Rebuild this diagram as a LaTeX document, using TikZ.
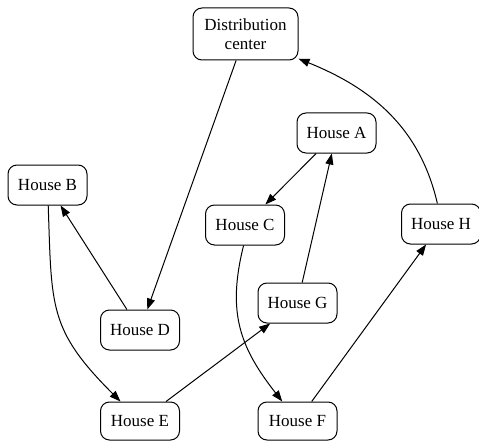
\documentclass[tikz,border=0pt]{standalone}
\usepackage{fontspec}
\setmainfont{Liberation Serif}
\usetikzlibrary{arrows.meta}
\begin{document}
\begin{tikzpicture}[x=1pt,y=1pt,
  house/.style={draw, rounded corners=9pt, line width=1pt, minimum width=79pt, minimum height=40pt, inner sep=2pt, font=\fontsize{17}{19}\selectfont, align=center},
  edge/.style={line width=1pt, -{Triangle[length=11pt,width=8pt]}}]
\useasboundingbox (0,0) rectangle (479,-441);
\node[house, minimum width=105pt, minimum height=52pt] (DC) at (245.5,-34) {Distribution\\center};
\node[house] (A) at (336.5,-133) {House A};
\node[house] (B) at (47.5,-185) {House B};
\node[house] (C) at (245,-225) {House C};
\node[house] (D) at (140,-330) {House D};
\node[house] (G) at (297.5,-303) {House G};
\node[house] (H) at (441,-224) {House H};
\node[house, minimum height=38pt] (E) at (140,-421) {House E};
\node[house, minimum height=38pt] (F) at (297.5,-421) {House F};
\draw[edge] (DC) -- (D);
\draw[edge] (D) -- (B);
\draw[edge] (B.272) to[out=-88,in=135,looseness=1.25] (E.135);
\draw[edge] (E) -- (G);
\draw[edge] (A) -- (C);
\draw[edge] (G) -- (A);
\draw[edge] (C.266) to[out=-104,in=128,looseness=1.1] (F.128);
\draw[edge] (F) -- (H);
\draw[edge] (H.100) to[out=103,in=-22] (DC.-25);
\end{tikzpicture}
\end{document}
